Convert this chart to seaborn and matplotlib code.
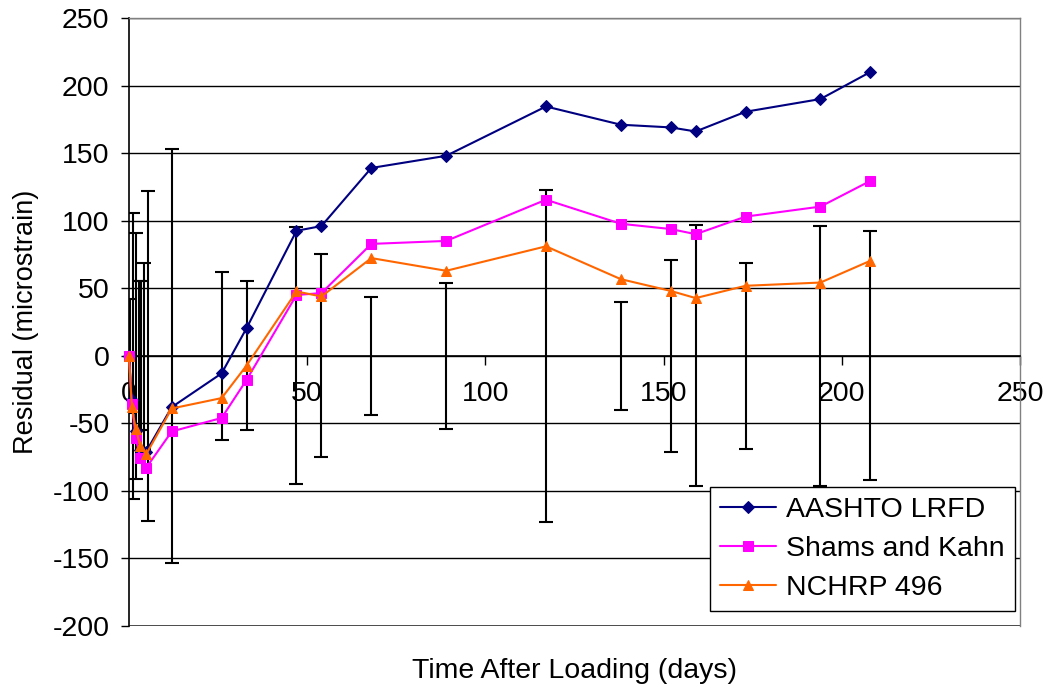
import numpy as np
import pandas as pd
import matplotlib
matplotlib.use("Agg")
import matplotlib.pyplot as plt
import seaborn as sns

# time after loading (days) for the three prediction series
days = [0, 0.8, 1.9, 3.2, 4.8, 12, 26, 33, 47, 54, 68, 89, 117, 138, 152, 159, 173, 194, 208]
aashto = [0, -33, -56, -70, -71, -38, -13, 20.5, 92.5, 96, 139, 148, 184.5, 171, 169, 166, 180.6, 190, 210]
shams = [0, -36, -61, -76, -83, -56, -46, -17.8, 45, 46.4, 82.8, 85, 115.5, 97.7, 93.8, 90, 103, 110.4, 129.4]
nchrp = [0, -38, -54, -67, -73, -39, -31.3, -7.2, 47.6, 43.9, 72.3, 62.9, 81, 56.7, 48, 42.7, 51.8, 54.2, 70.3]

# measured scatter (+/-) drawn about zero
err_days = [0.2, 1.1, 2.1, 2.8, 3.5, 4.2, 5.2, 12, 26, 33, 47, 54, 68, 89, 117, 138, 152, 159, 173, 194, 208]
err_size = [42, 106, 91, 55, 55, 69, 122, 153, 62, 55, 95, 75, 43.5, 54, 123, 40, 71, 96.5, 69, 96, 92]

x_ticks = [0, 50, 100, 150, 200, 250]
y_ticks = [-200, -150, -100, -50, 0, 50, 100, 150, 200, 250]

sns.set_style("white")
plt.rcParams['font.family'] = ['Liberation Sans', 'DejaVu Sans']
plt.rcParams['text.color'] = 'black'
plt.rcParams['axes.labelcolor'] = 'black'
plt.rcParams['xtick.color'] = 'black'
plt.rcParams['ytick.color'] = 'black'
fs = 20.5

fig = plt.figure(figsize=(10.52, 6.91), dpi=100)
ax = fig.add_axes([0.1226, 0.094, 0.8470, 0.880])

ax.errorbar(err_days, np.zeros(len(err_days)), yerr=err_size, fmt='none',
            ecolor='black', elinewidth=1.5, capsize=5, capthick=1.5, zorder=2)

series = [("AASHTO LRFD", aashto, '#000080', 'D', 6),
          ("Shams and Kahn", shams, '#FF00FF', 's', 6.5),
          ("NCHRP 496", nchrp, '#FF6600', '^', 7.5)]
for name, vals, col, mk, ms in series:
    df = pd.DataFrame({"day": days, "res": vals})
    sns.lineplot(data=df, x="day", y="res", ax=ax, color=col, marker=mk, markersize=ms,
                 markeredgecolor=col, markerfacecolor=col, linewidth=1.5, label=name,
                 sort=False, estimator=None, clip_on=False, zorder=3)

# x axis crosses at zero, like the original spreadsheet chart
ax.spines['bottom'].set_position(('data', 0))

ax.set_xlim(0, 250)
ax.set_ylim(-200, 250)
ax.set_xticks(x_ticks)
ax.set_yticks(y_ticks)
ax.set_xticklabels([str(t) for t in x_ticks])
ax.set_yticklabels([str(t) for t in y_ticks])

ax.grid(axis='y', color='black', linewidth=1)
ax.grid(axis='x', visible=False)
ax.axhline(-200, color='#404040', linewidth=2, zorder=1)

ax.spines['bottom'].set_color('black')
ax.spines['bottom'].set_linewidth(1.2)
ax.spines['left'].set_color('black')
ax.spines['left'].set_linewidth(1.2)
for s in ['top', 'right']:
    ax.spines[s].set_color('#808080')
    ax.spines[s].set_linewidth(1)

ax.tick_params(axis='x', direction='out', length=6.5, width=1, pad=12, bottom=True,
               color='black', labelsize=fs)
ax.tick_params(axis='y', direction='out', length=6, width=1, pad=8, left=True,
               color='black', labelsize=fs)

ax.set_ylabel("Residual (microstrain)", fontsize=19.5, labelpad=10)
ax.set_xlabel("Time After Loading (days)", fontsize=fs)
ax.xaxis.set_label_coords(0.5, -0.053)

leg = ax.legend(loc='lower right', bbox_to_anchor=(0.9944, 0.0247), borderaxespad=0,
                fontsize=fs, frameon=True, fancybox=False, framealpha=1,
                edgecolor='black', handlelength=2.0, handletextpad=0.35,
                labelspacing=0.45, borderpad=0.35)
leg.get_frame().set_linewidth(1)

fig.savefig("out.png", dpi=100, facecolor='white')
